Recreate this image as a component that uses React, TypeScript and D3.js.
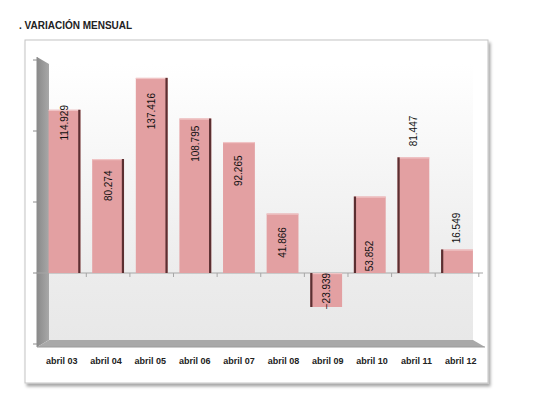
import React from 'react';
import * as d3 from 'd3';

// monthly variation, April of each year
const categories = ['abril 03', 'abril 04', 'abril 05', 'abril 06', 'abril 07', 'abril 08', 'abril 09', 'abril 10', 'abril 11', 'abril 12'];
const values = [114.929, 80.274, 137.416, 108.795, 92.265, 41.866, -23.939, 53.852, 81.447, 16.549];
// where each data label was placed on the value axis (labels were moved by hand in the original)
const labelAt = [105.8, 61.4, 114, 91, 72, 21.5, -12.7, 12, 100, 31.7];
const yTicks = [-50, 0, 50, 100, 150];
const title = '. VARIACIÓN MENSUAL';

const W = 536;
const H = 399;
const FONT = '"Liberation Sans", Arial, sans-serif';

export default function App() {
  const y = d3.scaleLinear().domain([-50, 150]).range([344, 60]);
  const x = d3.scaleBand<string>().domain(categories).range([42.7, 478.8]).paddingInner(0.27).paddingOuter(0.135);
  // category labels sit on the front plane, a bit wider than the back wall
  const xLab = d3.scaleBand<string>().domain(categories).range([39.5, 483]);
  const fmt = (v: number) => d3.format('.3f')(v);
  const mid = (categories.length - 1) / 2;

  return (
    <div style={{ margin: -8 }}>
      <svg width={W} height={H} style={{ display: 'block', background: '#fff' }}>
        <defs>
          <linearGradient id="wall" x1="0" y1="0" x2="0" y2="1">
            <stop offset="0" stopColor="#ffffff" />
            <stop offset="0.75" stopColor="#ececec" />
            <stop offset="1" stopColor="#e8e8e8" />
          </linearGradient>
          <linearGradient id="side" x1="0" y1="0" x2="1" y2="0">
            <stop offset="0" stopColor="#8a8a8a" />
            <stop offset="1" stopColor="#a8a8a8" />
          </linearGradient>
          <filter id="shadow" x="-5%" y="-5%" width="115%" height="115%">
            <feDropShadow dx="2" dy="3" stdDeviation="1.5" floodColor="#000" floodOpacity="0.35" />
          </filter>
        </defs>

        <text x={19} y={29} fontFamily={FONT} fontWeight="bold" fontSize={10} fill="#222">{title}</text>

        <rect x={25} y={40} width={463} height={343} fill="#fff" stroke="#c4c4c4" strokeWidth={1} filter="url(#shadow)" />

        {/* back wall, left wall and floor */}
        <rect x={49} y={64} width={424} height={276} fill="url(#wall)" />
        <polygon points="37,57 49,64 49,340 37,347" fill="url(#side)" />
        <polygon points="37,347 49,340 473,340 485,347" fill="#a9a9a9" />
        <line x1={37} x2={485} y1={347} y2={347} stroke="#9a9a9a" />

        {/* value axis ticks */}
        <line x1={37} x2={37} y1={57} y2={347} stroke="#8c8c8c" />
        {yTicks.map(t => (
          <line key={t} x1={33} x2={37} y1={y(t)} y2={y(t)} stroke="#8c8c8c" />
        ))}

        {/* zero line with category ticks */}
        <line x1={37} x2={483} y1={y(0)} y2={y(0)} stroke="#a6a6a6" strokeWidth={1.2} />
        {categories.map((c, i) => (
          <line key={c} x1={(x(c) ?? 0) + x.bandwidth() + (x.step() - x.bandwidth()) / 2} x2={(x(c) ?? 0) + x.bandwidth() + (x.step() - x.bandwidth()) / 2}
            y1={y(0)} y2={y(0) + 4} stroke="#a6a6a6" />
        ))}

        {values.map((v, i) => {
          const c = categories[i];
          const bx = x(c) ?? 0;
          const bw = x.bandwidth();
          const top = Math.min(y(v), y(0));
          const h = Math.abs(y(v) - y(0));
          const cx = bx + bw / 2;
          const ly = y(labelAt[i]);
          let side = null;
          if (i < mid - 0.6) side = <rect x={bx + bw - 2.2} y={top} width={2.2} height={h} fill="#5b2f31" />;
          else if (i > mid + 0.6) side = <rect x={bx} y={top} width={2.2} height={h} fill="#5b2f31" />;
          return (
            <g key={c}>
              <rect x={bx} y={top} width={bw} height={h} fill="#e3a0a2" />
              <rect x={bx} y={top} width={bw} height={1.2} fill="#f0c4c5" />
              {side}
              <text transform={`translate(${cx + 3.5},${ly}) rotate(-90)`} textAnchor="middle"
                fontFamily={FONT} fontSize={10} fill="#111">{fmt(v)}</text>
            </g>
          );
        })}

        {categories.map(c => (
          <text key={c} x={(xLab(c) ?? 0) + xLab.bandwidth() / 2} y={364} textAnchor="middle"
            fontFamily={FONT} fontWeight="bold" fontSize={9} fill="#222">{c}</text>
        ))}
      </svg>
    </div>
  );
}
